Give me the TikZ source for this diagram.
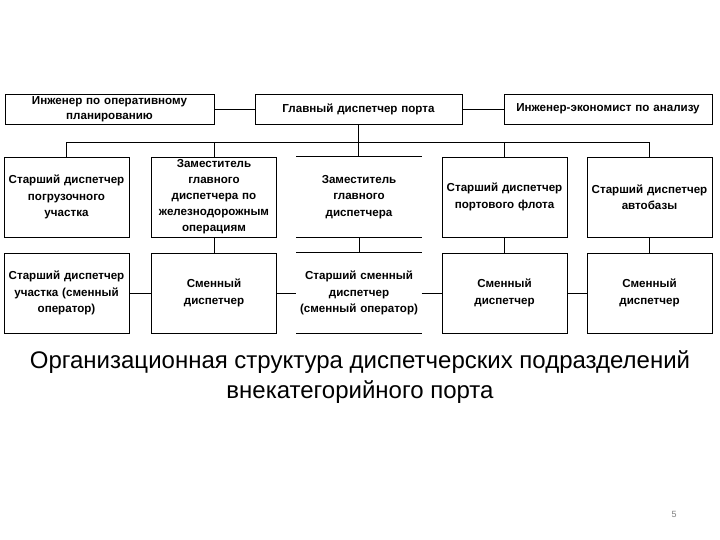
\documentclass[tikz,border=0pt]{standalone}
\usepackage{fontspec}
\setmainfont{Liberation Sans}
\begin{document}
\begin{tikzpicture}[x=1pt,y=-1pt,
  box/.style={draw, line width=0.8pt, minimum width=125pt, minimum height=80pt, inner sep=0pt},
  openbox/.style={minimum width=125pt, minimum height=80pt, inner sep=0pt},
  topbox/.style={draw, line width=0.8pt, minimum height=30pt, inner sep=0pt},
  txt/.style={align=center, text width=130pt, inner sep=0pt, font=\fontsize{11.6}{16.5}\selectfont\bfseries},
  conn/.style={line width=0.8pt},
  caption/.style={align=center, font=\fontsize{24}{29.5}\selectfont}]
\useasboundingbox (0,0) rectangle (720,540);
% top row
\node[topbox, minimum width=209pt] (t1) at (109.5,109) {};
\node[txt, text width=205pt, font=\fontsize{11.6}{14.5}\selectfont\bfseries] at (t1) {Инженер по оперативному\\ планированию};
\node[topbox, minimum width=207pt] (t2) at (358.5,109) {};
\node[txt, text width=205pt] at (t2) {Главный диспетчер порта};
\node[topbox, minimum width=208pt] (t3) at (608,109) {};
\node[txt, text width=205pt] at (t3) {Инженер-экономист по анализу};
% row 1
\node[box] (a1) at (66.5,197) {};
\node[txt] at (a1) {Старший диспетчер\\ погрузочного\\ участка};
\node[box] (a2) at (214,197) {};
\node[txt, font=\fontsize{11.6}{16}\selectfont\bfseries] at (214,197) {Заместитель\\ главного\\ диспетчера по\\ железнодорожным\\ операциям};
\node[openbox] (a3) at (359,197) {};
\node[txt] at (a3) {Заместитель\\ главного\\ диспетчера};
\node[box] (a4) at (504.5,197) {};
\node[txt] at (a4) {Старший диспетчер\\ портового флота};
\node[box] (a5) at (649.5,197) {};
\node[txt] at (a5) {Старший диспетчер\\ автобазы};
% row 2
\node[box] (b1) at (66.5,293) {};
\node[txt] at (b1) {Старший диспетчер\\ участка (сменный\\ оператор)};
\node[box] (b2) at (214,293) {};
\node[txt] at (b2) {Сменный\\ диспетчер};
\node[openbox] (b3) at (359,293) {};
\node[txt] at (b3) {Старший сменный\\ диспетчер\\ (сменный оператор)};
\node[box] (b4) at (504.5,293) {};
\node[txt] at (b4) {Сменный\\ диспетчер};
\node[box] (b5) at (649.5,293) {};
\node[txt] at (b5) {Сменный\\ диспетчер};
% open boxes: only top and bottom edges
\draw[conn] (a3.north west) -- (a3.north east);
\draw[conn] (a3.south west) -- (a3.south east);
\draw[conn] (b3.north west) -- (b3.north east);
\draw[conn] (b3.south west) -- (b3.south east);
% connectors
\coordinate (bus) at (0,142);
\draw[conn] (t1.east) -- (t2.west);
\draw[conn] (t2.east) -- (t3.west);
\draw[conn] (t2.south) -- (t2.south |- a3.north);
\draw[conn] (a1.north) -- (a1.north |- bus) -- (a5.north |- bus) -- (a5.north);
\draw[conn] (a2.north) -- (a2.north |- bus);
\draw[conn] (a4.north) -- (a4.north |- bus);
\draw[conn] (a2.south) -- (b2.north);
\draw[conn] (a3.south) -- (b3.north);
\draw[conn] (a4.south) -- (b4.north);
\draw[conn] (a5.south) -- (b5.north);
\draw[conn] (b1.east) -- (b2.west);
\draw[conn] (b2.east) -- (b3.west);
\draw[conn] (b3.east) -- (b4.west);
\draw[conn] (b4.east) -- (b5.west);
% caption
\node[caption] (cap) at (360,377) {Организационная структура диспетчерских подразделений\\ внекатегорийного порта};
\node[font=\fontsize{9}{10}\selectfont, text=gray] (pg) at (674,514) {5};
\end{tikzpicture}
\end{document}
